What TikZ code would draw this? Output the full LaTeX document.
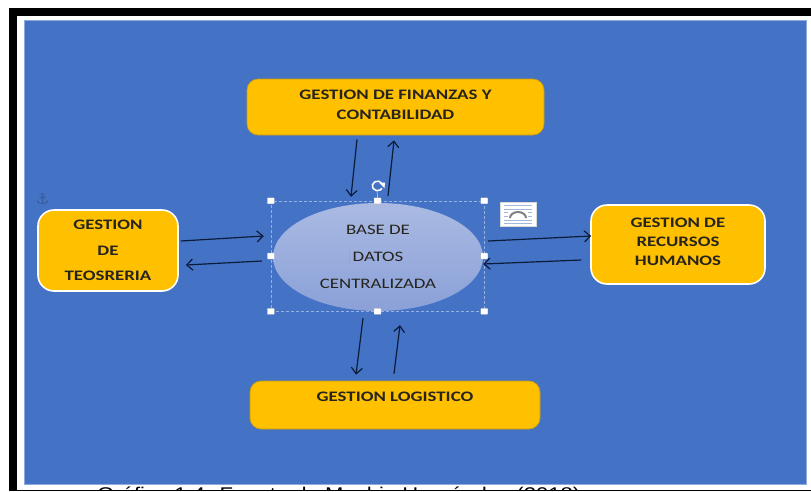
\documentclass[tikz,border=0pt]{standalone}
\usepackage{fontspec}
\setmainfont[FakeStretch=1.3]{Carlito}
\newfontfamily\capfont[FakeStretch=1.2]{Liberation Sans}
\usetikzlibrary{shapes.geometric,arrows.meta}
\definecolor{panelblue}{HTML}{4472C4}
\definecolor{boxorange}{HTML}{FFC000}
\definecolor{boxedge}{HTML}{C99A10}
\definecolor{inktext}{HTML}{26241C}
\definecolor{arrowink}{HTML}{0B1B3A}
\definecolor{dbtop}{HTML}{AABAE2}
\definecolor{dbbottom}{HTML}{8AA0D8}
\tikzstyle{deptbox}=[rectangle,rounded corners=11pt,fill=boxorange,draw=boxedge,line width=0.7pt,inner sep=0pt,align=center,text=inktext,font=\fontsize{14.5}{20}\selectfont\bfseries]
\tikzstyle{whitebox}=[deptbox,draw=white,line width=1.6pt,rounded corners=16pt]
\tikzstyle{basedb}=[ellipse,top color=dbtop,bottom color=dbbottom,inner sep=0pt,minimum width=210pt,minimum height=108pt,align=center,text=inktext,font=\fontsize{14.5}{27}\selectfont]
\tikzstyle{selbox}=[rectangle,draw=white!45!panelblue,densely dashed,line width=0.5pt,minimum width=213pt,minimum height=110pt,inner sep=0pt]
\tikzstyle{handle}=[rectangle,fill=white,draw=gray!60,line width=0.3pt,minimum width=7pt,minimum height=6pt,inner sep=0pt,rounded corners=0.5pt]
\tikzstyle{flow}=[draw=arrowink,line width=1.2pt,->,>={Straight Barb[length=6pt,width=11pt]}]

\begin{document}
\begin{tikzpicture}[x=1pt,y=-1pt]
  \useasboundingbox (0,0) rectangle (811,491);
  % Page frame and the blue panel
  \fill[white] (0,0) rectangle (811,491);
  \fill[black] (9,8) rectangle (811,15.5);
  \fill[black] (9,8) rectangle (16.5,491);
  \fill[black] (16.5,489.7) rectangle (811,491);
  \path[fill=panelblue,draw=panelblue!60!white,line width=0.5pt] (24,20) rectangle (806,484);

  % Caption, cut off by the lower edge
  \begin{scope}
    \clip (17,484.5) rectangle (811,489.7);
    \node[anchor=north west,inner sep=0pt,font=\capfont\fontsize{18.4}{21}\selectfont,text=black] (caption) at (97,486.5) {Gráfico 1.4: Fuente de Machin Hernández (2018)};
  \end{scope}

  % The four departments
  \node[deptbox,minimum width=297pt,minimum height=56pt,text depth=5pt] (fin) at (395.5,107) {GESTION DE FINANZAS Y\\CONTABILIDAD};
  \node[deptbox,minimum width=290pt,minimum height=48pt,font=\fontsize{14.5}{13}\selectfont\bfseries] (log) at (395,405) {GESTION LOGISTICO\\\strut};
  \node[whitebox,minimum width=140pt,minimum height=81pt,font=\fontsize{14.5}{25.5}\selectfont\bfseries] (teso) at (108,250.5) {GESTION\\DE\\TEOSRERIA};
  \node[whitebox,minimum width=174pt,minimum height=79pt,text depth=5pt,font=\fontsize{14.5}{19}\selectfont\bfseries] (rec) at (678,244.5) {GESTION DE\\RECURSOS\\HUMANOS};

  % Central database, selected as in the editor
  \node[basedb] (base) at (378,257) {BASE DE\\DATOS\\CENTRALIZADA};
  \node[selbox] (sel) at (377.5,256) {};
  \foreach \pos/\name in {north west/a, north/b, north east/c, east/d, south east/e, south/f, south west/g, west/h}
    \node[handle] (h-\name) at (sel.\pos) {};
  \draw[gray!70,line width=0.8pt] (349.7,250) -- (349.7,264);

  % Rotate handle
  \node[inner sep=0pt,minimum size=10pt] (rot) at (377,186) {};
  \draw[white!85!gray,line width=0.5pt] (rot.south) -- (h-b.north);
  \draw[white,line width=1.5pt] (382,183.5) arc (30:330:5.2pt and 4.8pt);
  \fill[white] (379.5,183) -- (385,182.5) -- (384.5,188) -- cycle;

  % Layout options icon
  \node[rectangle,fill=white,draw=gray!30,line width=0.4pt,minimum width=36pt,minimum height=24pt,inner sep=0pt] (wrap) at (518,214.5) {};
  \foreach \y in {-9,-5.5,5.5,9}
    \draw[panelblue!50!white,line width=0.8pt] ([shift={(-14,\y)}]wrap.center) -- ([shift={(14,\y)}]wrap.center);
  \foreach \y in {-2,1.5} {
    \draw[panelblue!50!white,line width=0.8pt] ([shift={(-14,\y)}]wrap.center) -- ([shift={(-10,\y)}]wrap.center);
    \draw[panelblue!50!white,line width=0.8pt] ([shift={(10,\y)}]wrap.center) -- ([shift={(14,\y)}]wrap.center);
  }
  \draw[gray,line width=2pt] ([shift={(-8,3.5)}]wrap.center) arc (180:360:8pt and -6pt);

  % Anchor mark
  \node[font=\fontsize{15}{15}\selectfont,text=panelblue!80!black,inner sep=0pt] (anchormark) at (42.5,199) {\fontspec{DejaVu Sans}⚓};

  % Arrows to and from the database
  \path[flow] ([shift={(-38.5,4)}]fin.south) -- ([shift={(-27,-6)}]base.north);
  \path[flow] ([shift={(10,-7)}]base.north) -- ([shift={(-1.5,5)}]fin.south);
  \path[flow] ([shift={(2,-9.5)}]teso.east) -- ([shift={(-9,-21)}]base.west);
  \path[flow] ([shift={(-11,4)}]base.west) -- ([shift={(7,14.5)}]teso.east);
  \path[flow] ([shift={(5,-16)}]base.east) -- ([shift={(1,-8.5)}]rec.west);
  \path[flow] ([shift={(-9,15.5)}]rec.west) -- ([shift={(0,7)}]base.east);
  \path[flow] ([shift={(-15,7)}]base.south) -- ([shift={(-39,-6)}]log.north);
  \path[flow] ([shift={(-1,-7)}]log.north) -- ([shift={(22,14)}]base.south);
\end{tikzpicture}
\end{document}
